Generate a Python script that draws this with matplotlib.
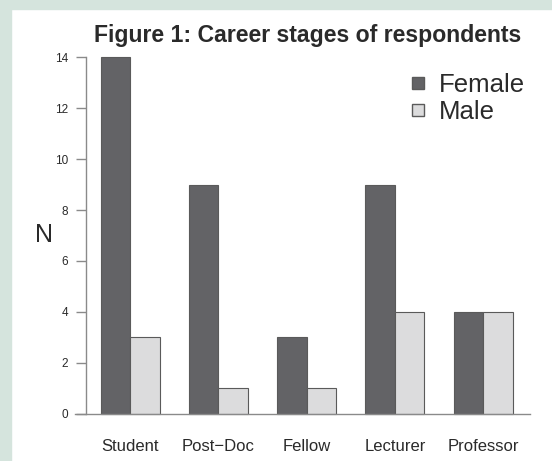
import matplotlib
matplotlib.use('Agg')
import matplotlib.pyplot as plt
import numpy as np
from matplotlib.patches import Rectangle
from matplotlib.lines import Line2D

plt.rcParams['font.family'] = ['Liberation Sans', 'DejaVu Sans']

# data
stages = ['Student', 'Post\u2212Doc', 'Fellow', 'Lecturer', 'Professor']
female = [14, 9, 3, 9, 4]
male = [3, 1, 1, 4, 4]
yticks = [0, 2, 4, 6, 8, 10, 12, 14]

dark = '#636366'
light = '#dcdcdd'
edge = '#5a5a5a'
axcol = '#8a8a8a'
txt = '#2a2a2a'

fig = plt.figure(figsize=(5.52, 4.61), dpi=100)
fig.patch.set_facecolor('white')

# green frame strips
bg = '#d5e4dd'
fig.patches.append(Rectangle((0, 0), 11 / 552, 1, transform=fig.transFigure, color=bg, zorder=0))
fig.patches.append(Rectangle((0, 1 - 9 / 461), 1, 9 / 461, transform=fig.transFigure, color=bg, zorder=0))

ax = fig.add_axes([86 / 552, 33 / 461, 443 / 552, 385 / 461])

idx = np.arange(len(stages))
xf = 1.5 + 3 * idx
xm = 2.5 + 3 * idx
ax.bar(xf, female, width=1, color=dark, edgecolor=edge, linewidth=0.8)
ax.bar(xm, male, width=1, color=light, edgecolor=edge, linewidth=0.8)

ax.set_xlim(0.5, 15.56)
ax.set_ylim(-0.56, 14.56)

for s in ['top', 'right', 'bottom']:
    ax.spines[s].set_visible(False)
ax.spines['left'].set_bounds(0, 14)
ax.spines['left'].set_color(axcol)
ax.spines['left'].set_linewidth(1.0)

# baseline
ax.add_line(Line2D([0.12, 15.6], [0, 0], color=axcol, linewidth=1.0, clip_on=False))

ax.set_yticks(yticks)
ax.set_yticklabels([str(v) for v in yticks])
ax.tick_params(axis='y', length=7, width=1.0, color=axcol, pad=6, labelsize=8.5, labelcolor=txt)

ax.set_xticks(2 + 3 * idx)
ax.set_xticklabels(stages)
ax.tick_params(axis='x', length=0, pad=8, labelsize=12, labelcolor=txt)

ax.set_ylabel('N', rotation=0, fontsize=18, color=txt, labelpad=8, va='center')

fig.text(0.557, 0.922, 'Figure 1: Career stages of respondents', ha='center', va='center',
         fontsize=16.6, fontweight='bold', color=txt)

handles = [Line2D([], [], marker='s', linestyle='none', markersize=8, markerfacecolor=dark, markeredgecolor=edge),
           Line2D([], [], marker='s', linestyle='none', markersize=8, markerfacecolor=light, markeredgecolor=edge)]
ax.legend(handles, ['Female', 'Male'], loc='upper right', bbox_to_anchor=(1.025, 0.962), frameon=False,
          fontsize=18.5, handlelength=0.6, handletextpad=0.5, labelspacing=0.1, borderaxespad=0.2,
          labelcolor=txt)

fig.savefig('out.png', dpi=100)
